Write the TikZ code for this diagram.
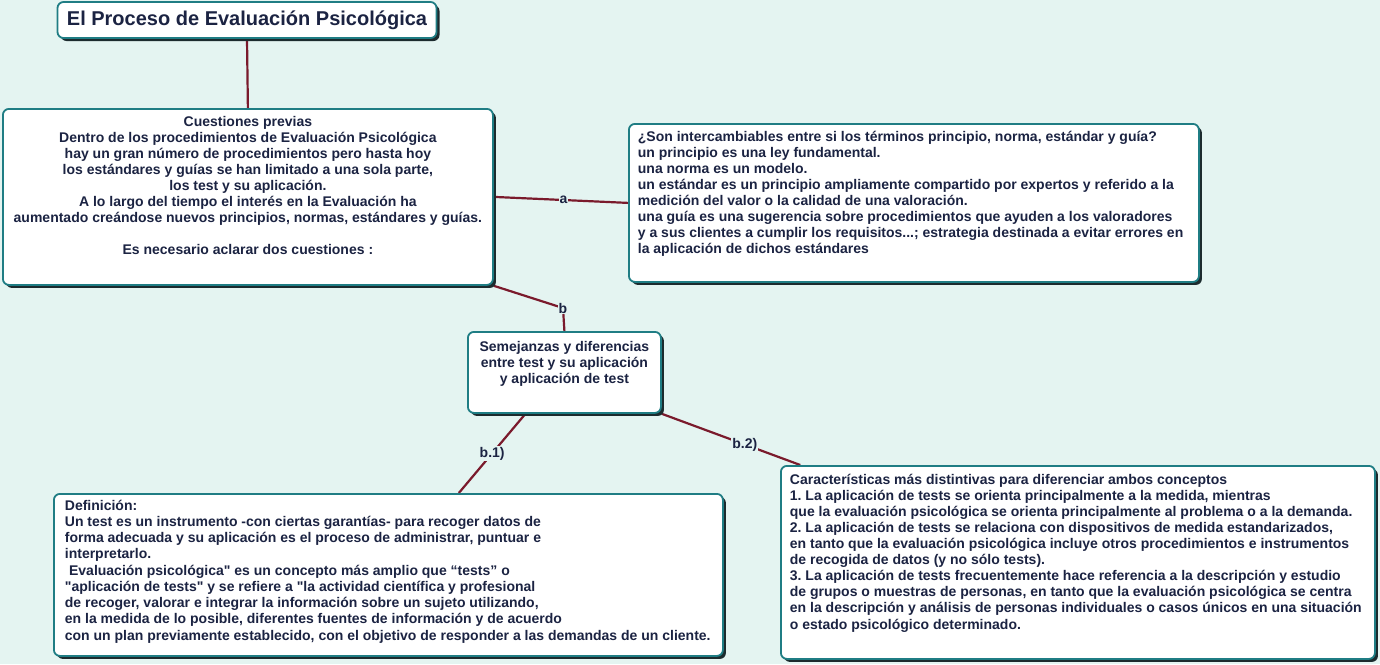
\documentclass[tikz,border=0pt]{standalone}
\usepackage{fontspec}
\setmainfont{Liberation Sans}[Ligatures=TeXOff]
\usetikzlibrary{shadows,calc}
\frenchspacing
\definecolor{bgc}{HTML}{E4F4F1}
\definecolor{bordc}{HTML}{1F7D84}
\definecolor{shadc}{HTML}{1C2B2E}
\definecolor{linec}{HTML}{7A1A2C}
\definecolor{textc}{HTML}{1B2342}
\pgfdeclarelayer{bglayer}
\pgfdeclarelayer{linelayer}
\pgfsetlayers{bglayer,linelayer,main}
\tikzset{
  box/.style={draw=bordc, line width=1.8pt, rounded corners=6pt, fill=white,
    inner ysep=0pt, anchor=north west,
    drop shadow={shadow xshift=3pt, shadow yshift=-3pt, fill=shadc, opacity=1},
    font=\bfseries, text=textc},
  conn/.style={draw=linec, line width=2.2pt},
  lab/.style={font=\bfseries\fontsize{14}{14}\selectfont, text=textc, fill=bgc, inner sep=1pt}
}
\begin{document}
\frenchspacing
\begin{tikzpicture}[x=1pt,y=-1pt]
\begin{pgfonlayer}{bglayer}
\fill[bgc] (0,0) rectangle (1380,664);
\end{pgfonlayer}
\useasboundingbox (0,0) rectangle (1380,664);

% title
\node[box, anchor=center, minimum width=379pt, minimum height=36pt, inner xsep=0pt,
  font=\bfseries\fontsize{20}{22}\selectfont] (title) at (247,20)
  {El Proceso de Evaluación Psicológica};

% cuestiones previas
\node[box, inner xsep=9pt] (cp) at (2,108)
  {\parbox[c][176pt][t]{472pt}{\fontsize{14}{16}\selectfont\centering\vspace*{7pt}
  Cuestiones previas\\
  Dentro de los procedimientos de Evaluación Psicológica\\
  hay un gran número de procedimientos pero hasta hoy\\
  los estándares y guías se han limitado a una sola parte,\\
  los test y su aplicación.\\
  A lo largo del tiempo el interés en la Evaluación ha\\
  aumentado creándose nuevos principios, normas, estándares y guías.\\[16pt]
  Es necesario aclarar dos cuestiones :\par}};

% son intercambiables
\node[box, inner xsep=9pt] (sq) at (628,123)
  {\parbox[c][158pt][t]{552pt}{\fontsize{14}{16}\selectfont\raggedright\vspace*{7pt}
  ¿Son intercambiables entre si los términos principio, norma, estándar y guía?\\
  un principio es una ley fundamental.\\
  una norma es un modelo.\\
  un estándar es un principio ampliamente compartido por expertos y referido a la\\
  medición del valor o la calidad de una valoración.\\
  una guía es una sugerencia sobre procedimientos que ayuden a los valoradores\\
  y a sus clientes a cumplir los requisitos...; estrategia destinada a evitar errores en\\
  la aplicación de dichos estándares\par}};

% semejanzas
\node[box, inner xsep=6pt] (sem) at (467,331)
  {\parbox[c][81pt][t]{181pt}{\fontsize{14}{16}\selectfont\centering\vspace*{9pt}
  Semejanzas y diferencias\\
  entre test y su aplicación\\
  y aplicación de test\par}};

% definicion
\node[box, inner xsep=11pt] (def) at (53,493)
  {\parbox[c][162pt][t]{647pt}{\fontsize{14}{16.25}\selectfont\raggedright\vspace*{6pt}
  Definición:\\
  Un test es un instrumento -con ciertas garantías- para recoger datos de\\
  forma adecuada y su aplicación es el proceso de administrar, puntuar e\\
  interpretarlo.\\
  \hspace*{0.3em}Evaluación psicológica" es un concepto más amplio que “tests” o\\
  "aplicación de tests" y se refiere a "la actividad científica y profesional\\
  de recoger, valorar e integrar la información sobre un sujeto utilizando,\\
  en la medida de lo posible, diferentes fuentes de información y de acuerdo\\
  con un plan previamente establecido, con el objetivo de responder a las demandas de un cliente.\par}};

% caracteristicas
\node[box, inner xsep=9pt] (car) at (780,465)
  {\parbox[c][193pt][t]{576pt}{\fontsize{14}{16.1}\selectfont\raggedright\vspace*{8pt}
  Características más distintivas para diferenciar ambos conceptos\\
  1. La aplicación de tests se orienta principalmente a la medida, mientras\\
  que la evaluación psicológica se orienta principalmente al problema o a la demanda.\\
  2. La aplicación de tests se relaciona con dispositivos de medida estandarizados,\\
  en tanto que la evaluación psicológica incluye otros procedimientos e instrumentos\\
  de recogida de datos (y no sólo tests).\\
  3. La aplicación de tests frecuentemente hace referencia a la descripción y estudio\\
  de grupos o muestras de personas, en tanto que la evaluación psicológica se centra\\
  en la descripción y análisis de personas individuales o casos únicos en una situación\\
  o estado psicológico determinado.\par}};

% connectors
\coordinate (bc) at (563,308);
\coordinate (s1) at ($(sem.south west)!0.30!(sem.south east)$);
\coordinate (d1) at ($(def.north west)!0.605!(def.north east)$);
\coordinate (c1) at ($(car.north west)!0.034!(car.north east)$);
\begin{pgfonlayer}{linelayer}
\draw[conn] (title.south) -- (cp.north);
\draw[conn] (cp.east) -- (sq.west);
\draw[conn] (cp.south east) -- (bc) -- (sem.north);
\draw[conn] (s1) -- (d1);
\draw[conn] (sem.south east) -- (c1);
\end{pgfonlayer}
\node[lab] (la) at ($(cp.east)!0.52!(sq.west)$) {a};
\node[lab] (lb) at (bc) {b};
\node[lab] (lb1) at ($(s1)!0.5!(d1)$) {b.1)};
\node[lab] (lb2) at ($(sem.south east)!0.6!(c1)$) {b.2)};
\end{tikzpicture}
\end{document}
